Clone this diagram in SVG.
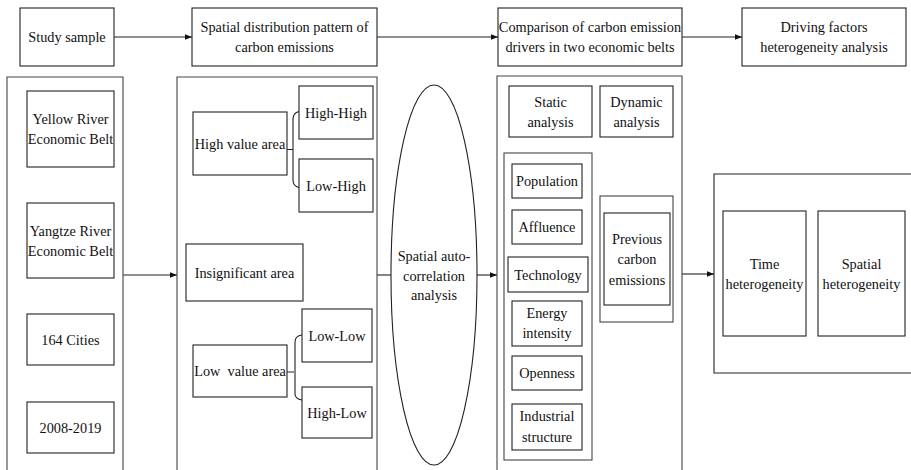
<svg xmlns="http://www.w3.org/2000/svg" width="911" height="470" viewBox="0 0 911 470">
<style>
text{font-family:'Liberation Serif','Times New Roman',Times,'DejaVu Serif',serif;font-size:14.3px;fill:#111;text-anchor:middle}
.b{fill:#fff;stroke:#222;stroke-width:1.1}
.p{fill:none;stroke:#444;stroke-width:1.1}
.c{fill:none;stroke:#222;stroke-width:1.1}
</style>
<defs>
<marker id="ah" viewBox="0 0 10 10" refX="10" refY="5" markerWidth="7" markerHeight="7" markerUnits="userSpaceOnUse" orient="auto">
<path d="M0,1 L10,5 L0,9 Z" fill="#111"/>
</marker>
</defs>
<rect width="911" height="470" fill="#fff"/>

<g id="connectors">
<line class="c" x1="114" y1="37" x2="192" y2="37" marker-end="url(#ah)"/>
<line class="c" x1="377" y1="37" x2="498" y2="37" marker-end="url(#ah)"/>
<line class="c" x1="682" y1="37" x2="742" y2="37" marker-end="url(#ah)"/>
<line class="c" x1="123" y1="275" x2="177" y2="275" marker-end="url(#ah)"/>
<line class="c" x1="377" y1="275" x2="391" y2="275"/>
<line class="c" x1="477" y1="275" x2="497" y2="275" marker-end="url(#ah)"/>
<line class="c" x1="682" y1="274" x2="714" y2="274" marker-end="url(#ah)"/>
<path class="c" d="M287,149.5 H293 M299,111.5 Q293,113 293,119 V180 Q293,186 299,187.5"/>
<path class="c" d="M287,372 H294 M302,335 Q295,336 295,342 V394 Q295,399 302,400"/>
</g>

<g id="study-sample"><rect class="b" x="20" y="8" width="94" height="58"/><text x="67" y="42">Study sample</text></g>
<g id="spatial-distribution"><rect class="b" x="192" y="8" width="185" height="58"/><text x="284.5" y="32">Spatial distribution pattern of</text><text x="284.5" y="52">carbon emissions</text></g>
<g id="comparison"><rect class="b" x="498" y="8" width="184" height="58"/><text x="590" y="32">Comparison of carbon emission</text><text x="590" y="52">drivers in two economic belts</text></g>
<g id="driving-factors"><rect class="b" x="742" y="8" width="164" height="58"/><text x="824" y="32">Driving factors</text><text x="824" y="52">heterogeneity analysis</text></g>

<g id="panel-sample">
<path class="p" d="M7,471 V77 H123 V471"/>
<g id="yellow-river"><rect class="b" x="27" y="91" width="87" height="76"/><text x="70.5" y="124">Yellow River</text><text x="70.5" y="144">Economic Belt</text></g>
<g id="yangtze-river"><rect class="b" x="27" y="203" width="87" height="75"/><text x="70.5" y="235.5">Yangtze River</text><text x="70.5" y="255.5">Economic Belt</text></g>
<g id="cities"><rect class="b" x="27" y="314" width="87" height="51"/><text x="70.5" y="344.5">164 Cities</text></g>
<g id="years"><rect class="b" x="27" y="402" width="87" height="51"/><text x="70.5" y="432.5">2008-2019</text></g>
</g>

<g id="panel-pattern">
<path class="p" d="M177,471 V77 H377 V471"/>
<g id="high-value"><rect class="b" x="193" y="112" width="94" height="63"/><text x="240" y="148.5">High value area</text></g>
<g id="high-high"><rect class="b" x="299" y="86" width="74" height="53"/><text x="336" y="117.5">High-High</text></g>
<g id="low-high"><rect class="b" x="299" y="159" width="74" height="53"/><text x="336" y="190.5">Low-High</text></g>
<g id="insignificant"><rect class="b" x="186" y="244" width="117" height="57"/><text x="244.5" y="277.5">Insignificant area</text></g>
<g id="low-value"><rect class="b" x="193" y="345" width="94" height="52"/><text x="240" y="376" xml:space="preserve">Low  value area</text></g>
<g id="low-low"><rect class="b" x="302" y="309" width="70" height="53"/><text x="337" y="340.5">Low-Low</text></g>
<g id="high-low"><rect class="b" x="302" y="387" width="70" height="51"/><text x="337" y="417.5">High-Low</text></g>
</g>

<g id="autocorrelation">
<ellipse class="b" cx="434" cy="275" rx="43" ry="190"/>
<text x="434" y="261">Spatial auto-</text><text x="434" y="280.5">correlation</text><text x="434" y="300">analysis</text>
</g>

<g id="panel-drivers">
<path class="p" d="M497,471 V76 H682 V471"/>
<g id="static"><rect class="b" x="509" y="86" width="83" height="51"/><text x="550.5" y="106.5">Static</text><text x="550.5" y="126.5">analysis</text></g>
<g id="dynamic"><rect class="b" x="600" y="86" width="73" height="51"/><text x="636.5" y="106.5">Dynamic</text><text x="636.5" y="126.5">analysis</text></g>
<g id="static-factors">
<rect class="p" x="504" y="153" width="88" height="307"/>
<g id="population"><rect class="b" x="512" y="164" width="70" height="34"/><text x="547" y="186">Population</text></g>
<g id="affluence"><rect class="b" x="512" y="210" width="70" height="34"/><text x="547" y="232">Affluence</text></g>
<g id="technology"><rect class="b" x="508" y="257" width="80" height="35"/><text x="548" y="279.5">Technology</text></g>
<g id="energy"><rect class="b" x="512" y="301" width="70" height="45"/><text x="547" y="318">Energy</text><text x="547" y="338">intensity</text></g>
<g id="openness"><rect class="b" x="512" y="356" width="70" height="34"/><text x="547" y="378">Openness</text></g>
<g id="industrial"><rect class="b" x="512" y="404" width="70" height="46"/><text x="547" y="421">Industrial</text><text x="547" y="442">structure</text></g>
</g>
<g id="previous">
<rect class="p" x="600" y="196" width="73" height="126"/>
<rect class="b" x="604" y="213" width="66" height="92"/>
<text x="637" y="244">Previous</text><text x="637" y="264">carbon</text><text x="637" y="285">emissions</text>
</g>
</g>

<g id="panel-heterogeneity">
<path class="c" d="M911,174 H714 V373 H911"/>
<g id="time-het"><rect class="b" x="723" y="211" width="83" height="125"/><text x="764.5" y="269">Time</text><text x="764.5" y="289">heterogeneity</text></g>
<g id="spatial-het"><rect class="b" x="818" y="211" width="87" height="125"/><text x="861.5" y="269">Spatial</text><text x="861.5" y="289">heterogeneity</text></g>
</g>
</svg>
